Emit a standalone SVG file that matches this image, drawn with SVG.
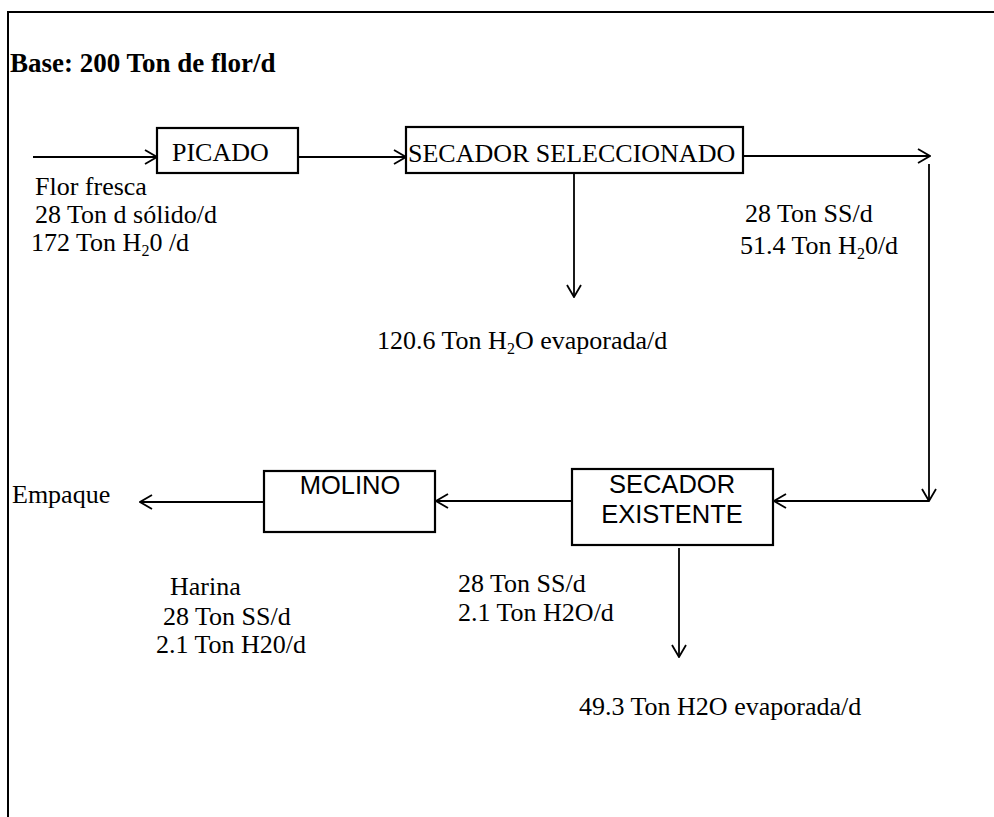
<svg xmlns="http://www.w3.org/2000/svg" width="994" height="817" viewBox="0 0 994 817">
<defs>
<style>
.box{fill:#fff;stroke:#000;stroke-width:2.2}
.ln{fill:none;stroke:#000;stroke-width:1.8;marker-end:url(#ah)}
.frame{fill:none;stroke:#000;stroke-width:2}
.t{font-family:"Liberation Serif","Times New Roman",serif;font-size:26px;fill:#000}
.tb{font-family:"Liberation Serif","Times New Roman",serif;font-size:27px;font-weight:bold;fill:#000}
.a{font-family:"Liberation Sans",Arial,sans-serif;font-size:25.5px;fill:#000}
.sub{font-size:16px}
</style>
<marker id="ah" viewBox="0 0 14 16" refX="13" refY="8" markerWidth="14" markerHeight="16" markerUnits="userSpaceOnUse" orient="auto">
<path d="M1,1 L13,8 L1,15" fill="none" stroke="#000" stroke-width="1.8"/>
</marker>
</defs>
<rect width="994" height="817" fill="#fff"/>
<path class="frame" d="M994,12 L8,12 L8,817"/>
<text class="tb" x="10" y="72">Base: 200 Ton de flor/d</text>

<g id="connectors">
<line class="ln" x1="33" y1="157" x2="157" y2="157"/>
<line class="ln" x1="298" y1="157" x2="406" y2="157"/>
<line class="ln" x1="743" y1="156" x2="930" y2="156"/>
<line class="ln" x1="929" y1="164" x2="929" y2="501"/>
<line class="ln" x1="929" y1="501" x2="774" y2="501"/>
<line class="ln" x1="574" y1="173" x2="574" y2="297"/>
<line class="ln" x1="572" y1="501" x2="436" y2="501"/>
<line class="ln" x1="264" y1="502" x2="140" y2="502"/>
<line class="ln" x1="679" y1="548" x2="679" y2="657"/>
</g>

<g id="picado">
<rect class="box" x="157" y="128" width="141" height="45"/>
<text class="t" x="172" y="161">PICADO</text>
</g>

<g id="secador-seleccionado">
<rect class="box" x="406" y="127" width="337" height="46"/>
<text class="t" x="408" y="162">SECADOR SELECCIONADO</text>
</g>

<g id="secador-existente">
<rect class="box" x="572" y="469" width="201" height="76"/>
<text class="a" x="672" y="493" text-anchor="middle">SECADOR</text>
<text class="a" x="672" y="523" text-anchor="middle">EXISTENTE</text>
</g>

<g id="molino">
<rect class="box" x="264" y="471" width="171" height="61"/>
<text class="a" x="350" y="494" text-anchor="middle">MOLINO</text>
</g>

<g id="labels">
<text class="t" x="35" y="195">Flor fresca</text>
<text class="t" x="35" y="223">28 Ton d sólido/d</text>
<text class="t" x="31" y="251">172 Ton H<tspan class="sub" dy="5">2</tspan><tspan dy="-5">0 /d</tspan></text>

<text class="t" x="745" y="222">28 Ton SS/d</text>
<text class="t" x="740" y="254">51.4 Ton H<tspan class="sub" dy="5">2</tspan><tspan dy="-5">0/d</tspan></text>

<text class="t" x="377" y="349">120.6 Ton H<tspan class="sub" dy="5">2</tspan><tspan dy="-5">O evaporada/d</tspan></text>

<text class="t" x="12" y="503">Empaque</text>

<text class="t" x="170" y="595">Harina</text>
<text class="t" x="163" y="625">28 Ton SS/d</text>
<text class="t" x="156" y="653">2.1 Ton H20/d</text>

<text class="t" x="458" y="592">28 Ton SS/d</text>
<text class="t" x="458" y="621">2.1 Ton H2O/d</text>

<text class="t" x="579" y="715">49.3 Ton H2O evaporada/d</text>
</g>
</svg>
